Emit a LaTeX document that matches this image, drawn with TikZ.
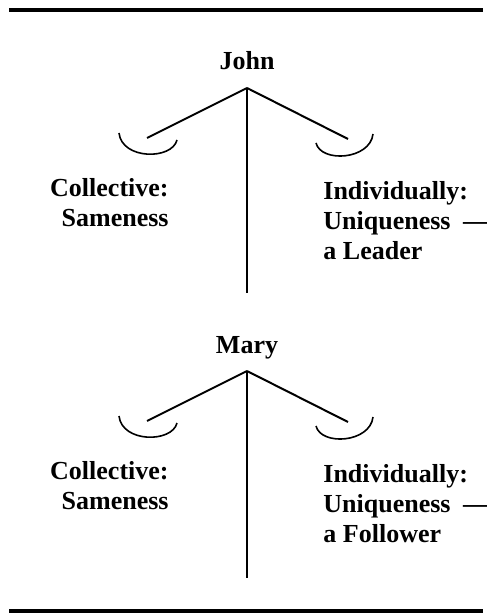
\documentclass[tikz,border=0pt]{standalone}
\usepackage{fontspec}
\setmainfont{Liberation Serif}
\usetikzlibrary{positioning}

\begin{document}
\begin{tikzpicture}[
    x=0.5pt, y=-0.5pt,
    person/.style={font=\fontsize{13}{15}\selectfont\bfseries, inner sep=0pt, anchor=base},
    side/.style={font=\fontsize{13}{15}\selectfont\bfseries, inner sep=0pt, align=#1},
    side/.default=left,
    branch/.style={line width=1pt},
    cup/.style={line width=0.8pt},
    rule/.style={line width=1.9pt}
]
    \useasboundingbox (0,0) rectangle (486,613);

    %% --- Rules ---
    \coordinate (tl) at (9,10);
    \coordinate (tr) at (483,10);
    \coordinate (bl) at (9,611);
    \coordinate (br) at (483,611);
    \draw[rule] (tl) -- (tr);
    \draw[rule] (bl) -- (br);

    %% --- John ---
    \node[person] (john) at (247,70) {John};
    \coordinate (japex) at (247,88);
    \coordinate (jfoot) at (247,293);
    \coordinate (jleft) at (147,138);
    \coordinate (jright) at (348,139);
    \draw[branch] (japex) -- (jfoot);
    \draw[branch] (japex) -- (jleft);
    \draw[branch] (japex) -- (jright);
    \draw[cup] (119,133) .. controls (122,160) and (172,160) .. (177,140);
    \draw[cup] (316,143) .. controls (321,163) and (370,160) .. (373,134);
    \node[side=right, anchor=north east] (jcoll) at (169,178) {Collective:\\Sameness};
    \node[side=left, anchor=north west] (jind) at (323,181) {Individually:\\Uniqueness\hspace{3pt} ---\\a Leader};

    %% --- Mary ---
    \node[person] (mary) at (247,353) {Mary};
    \coordinate (mapex) at (247,371);
    \coordinate (mfoot) at (247,578);
    \coordinate (mleft) at (147,421);
    \coordinate (mright) at (348,422);
    \draw[branch] (mapex) -- (mfoot);
    \draw[branch] (mapex) -- (mleft);
    \draw[branch] (mapex) -- (mright);
    \draw[cup] (119,416) .. controls (122,443) and (172,443) .. (177,423);
    \draw[cup] (316,426) .. controls (321,446) and (370,443) .. (373,417);
    \node[side=right, anchor=north east] (mcoll) at (169,461) {Collective:\\Sameness};
    \node[side=left, anchor=north west] (mind) at (323,464) {Individually:\\Uniqueness\hspace{3pt} ---\\a Follower};
\end{tikzpicture}
\end{document}
